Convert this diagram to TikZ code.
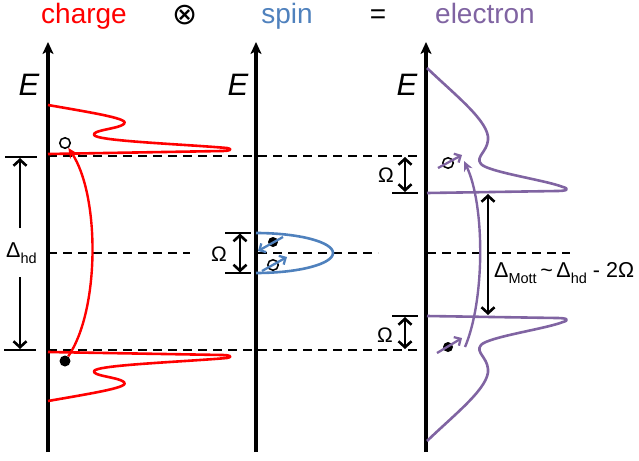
\documentclass[tikz,border=0pt]{standalone}
\usepackage{fontspec}
\setmainfont{Liberation Sans}
\newfontfamily\symbolfont{DejaVu Sans}
\usetikzlibrary{arrows.meta}
\definecolor{ChargeRed}{HTML}{FF0000}
\definecolor{SpinBlue}{HTML}{4F81BD}
\definecolor{ElecPurple}{HTML}{8064A2}
\newcommand{\lowsub}[1]{\raisebox{-0.28em}{\fontsize{14.5}{15}\selectfont #1}}

\begin{document}
\begin{tikzpicture}[x=1pt,y=-1pt,
    axis/.style={line width=3.5pt,-{Stealth[length=12pt,width=11pt,inset=3pt]}},
    level/.style={line width=2.6pt,dash pattern=on 9pt off 6pt},
    tick/.style={line width=2.8pt},
    gaparr/.style={line width=2.6pt,{Straight Barb[length=6pt,width=13pt]}-{Straight Barb[length=6pt,width=13pt]}},
    dimend/.style={line width=2.6pt,-{Straight Barb[length=6pt,width=13pt]}},
    dos/.style={line width=2.6pt,line join=round},
    spinarr/.style={line width=2.3pt,-{Straight Barb[length=5pt,width=10pt]}},
    hop/.style={line width=2.4pt,-{Stealth[length=10pt,width=9pt]}},
    hole/.style={circle,draw,line width=1.5pt,minimum size=10.5pt,inner sep=0pt},
    particle/.style={circle,fill,minimum size=11pt,inner sep=0pt},
    title/.style={font=\fontsize{28}{28}\selectfont,anchor=base},
    elab/.style={font=\fontsize{31}{31}\selectfont\itshape,anchor=base},
    omega/.style={font=\fontsize{21}{21}\selectfont},
    dlab/.style={font=\fontsize{21.5}{22}\selectfont,inner xsep=0pt,inner ysep=14pt},
  ]
  \useasboundingbox (0,0) rectangle (639,460);

  % titles
  \node[title,text=ChargeRed] (tcharge) at (84,24) {charge};
  \node[title,font=\fontsize{30}{30}\selectfont\symbolfont] (ttimes) at (185,25) {⊗};
  \node[title,text=SpinBlue] (tspin) at (287,24) {spin};
  \node[title] (tequal) at (378,24) {=};
  \node[title,text=ElecPurple] (telec) at (485,24) {electron};

  % energy levels
  \foreach \y/\xa/\xb in {156/48/420,350/48/420,253/48/190,253/258/378,253/427/570}
    \draw[level] (\xa,\y) -- (\xb,\y);

  % axes
  \foreach \ax/\ex/\nm in {48/29/charge,256/238/spin,426/407/elec}
    {
      \draw[axis] (\ax,452) -- (\ax,42);
      \node[elab] (E\nm) at (\ex,95) {E};
    }

  % charge
  \foreach \flip in {1,-1}
    \draw[dos,ChargeRed,shift={(0,253)},yscale=\flip,shift={(0,-253)}]
      (48,105) .. controls (100,114) and (130,119) .. (124,124)
      .. controls (118,129) and (92,130) .. (94,135)
      .. controls (97,141) and (180,144) .. (227,148)
      .. controls (233,149) and (231,151) .. (222,151) -- (48,154);
  \node[hole] (chole) at (65,143) {};
  \node[particle] (cdot) at (65,361) {};
  \draw[hop,ChargeRed] (cdot) .. controls (100,310) and (100,195) .. (chole);

  \draw[tick] (5,157) -- (37,157);
  \draw[tick] (4,350) -- (36,350);
  \coordinate (hdtop) at (20,158);
  \coordinate (hdbot) at (20,349);
  \node[dlab,anchor=base west] (dhd) at (6,257) {Δ\lowsub{hd}};
  \draw[dimend] (dhd.north -| hdtop) -- (hdtop);
  \draw[dimend] (dhd.south -| hdbot) -- (hdbot);

  % spin
  \draw[dos,SpinBlue] (256,233) arc[start angle=-90,end angle=90,x radius=77,y radius=20];
  \node[particle,minimum size=10pt] (sup) at (273,242) {};
  \node[hole] (sdown) at (273,265) {};
  \draw[spinarr,SpinBlue] ([shift={(10,-5)}]sup.center) -- ([shift={(-15,9)}]sup.center);
  \draw[spinarr,SpinBlue] ([shift={(-11,6)}]sdown.center) -- ([shift={(14,-8)}]sdown.center);

  \draw[tick] (225,233) -- (251,233);
  \draw[tick] (225,273) -- (251,273);
  \coordinate (sgtop) at (240,233.5);
  \coordinate (sgbot) at (240,272.5);
  \draw[gaparr] (sgtop) -- (sgbot);
  \node[omega] (somega) at (219,254) {Ω};

  % electron
  \foreach \flip in {1,-1}
    \draw[dos,ElecPurple,shift={(0,254.5)},yscale=\flip,shift={(0,-254.5)}]
      (427,68) .. controls (455,95) and (490,122) .. (488,140)
      .. controls (487,152) and (475,157) .. (481,164)
      .. controls (488,172) and (545,180) .. (563,187)
      .. controls (570,189) and (567,191) .. (557,191) -- (427,193);
  \node[hole] (ehole) at (448,163) {};
  \node[particle,minimum size=10pt] (edot) at (448,347) {};
  \draw[spinarr,ElecPurple] ([shift={(-10,5)}]ehole.center) -- ([shift={(14,-8)}]ehole.center);
  \draw[spinarr,ElecPurple] ([shift={(-11,6)}]edot.center) -- ([shift={(14,-9)}]edot.center);
  \draw[hop,ElecPurple] ([shift={(17,0)}]edot.center) .. controls (485,300) and (485,205) .. ([shift={(16,-2)}]ehole.center);

  \draw[tick] (392,193) -- (418,193);
  \draw[tick] (392,316) -- (418,316);
  \coordinate (eutop) at (405,157);
  \coordinate (eubot) at (405,192);
  \coordinate (eltop) at (405,317);
  \coordinate (elbot) at (405,349);
  \coordinate (mtop) at (488,194);
  \coordinate (mbot) at (488,315);
  \draw[gaparr] (eutop) -- (eubot);
  \draw[gaparr] (eltop) -- (elbot);
  \draw[gaparr] (mtop) -- (mbot);
  \node[omega] (euomega) at (386,175) {Ω};
  \node[omega] (elomega) at (385,335) {Ω};
  \node[dlab,inner ysep=0pt,anchor=base west] (dmott) at (494,277)
    {Δ\lowsub{Mott}\,\textasciitilde\,Δ\lowsub{hd} - 2Ω};
\end{tikzpicture}
\end{document}
